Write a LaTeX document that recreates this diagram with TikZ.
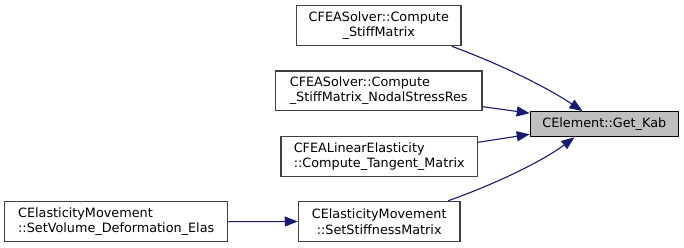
\documentclass[tikz,border=0pt]{standalone}
\usepackage{fontspec}
\setmainfont{DejaVu Sans}
\usetikzlibrary{arrows.meta,calc}
\definecolor{edgeblue}{HTML}{191970}
\definecolor{boxline}{HTML}{404040}
\definecolor{hilite}{HTML}{BFBFBF}
\begin{document}
\begin{tikzpicture}[x=1pt,y=-1pt,
  fnbox/.style={draw=boxline,line width=1.2pt,fill=white,inner sep=0pt,
    font=\fontsize{12.8}{15.5}\selectfont},
  fncur/.style={fnbox,draw=black,fill=hilite},
  callarrow/.style={draw=edgeblue,line width=1.1pt,
    -{Triangle[length=13pt,width=10pt]}}]
\useasboundingbox (0,0) rectangle (684,248);
% target function
\node[fncur,minimum width=148pt,minimum height=25pt] (t) at (604.3,124.2) {CElement::Get\_Kab};
% callers
\node[fnbox,align=center,minimum width=164.3pt,minimum height=40pt] (b1) at (378.8,25.7)
  {CFEASolver::Compute\\\_StiffMatrix};
\node[fnbox,align=left,minimum width=206.7pt,minimum height=39.7pt] (b2) at (378.7,90.8)
  {CFEASolver::Compute\\\_StiffMatrix\_NodalStressRes};
\node[fnbox,align=left,minimum width=196.3pt,minimum height=40pt] (b3) at (379.2,156.7)
  {CFEALinearElasticity\\::Compute\_Tangent\_Matrix};
\node[fnbox,align=center,minimum width=161.7pt,minimum height=40.4pt] (b4) at (379.2,221.5)
  {CElasticityMovement\\::SetStiffnessMatrix};
\node[fnbox,align=left,minimum width=223pt,minimum height=40pt] (b5) at (116.2,221.7)
  {CElasticityMovement\\::SetVolume\_Deformation\_Elas};
% call edges
\draw[callarrow] ($(b1.south)+(72.9,0)$) .. controls (495,62) and (545,86) .. ($(t.north west)+(52.7,0)$);
\draw[callarrow] ($(b2.east)+(0,15.9)$) -- ($(t.west)+(0,-11)$);
\draw[callarrow] ($(b3.east)+(0,-14.4)$) -- ($(t.west)+(0,10.1)$);
\draw[callarrow] ($(b4.north)+(69.1,0)$) .. controls (490,186) and (540,163) .. ($(t.south west)+(44.7,0)$);
\draw[callarrow] (b5.east) -- (b4.west);
\end{tikzpicture}
\end{document}
